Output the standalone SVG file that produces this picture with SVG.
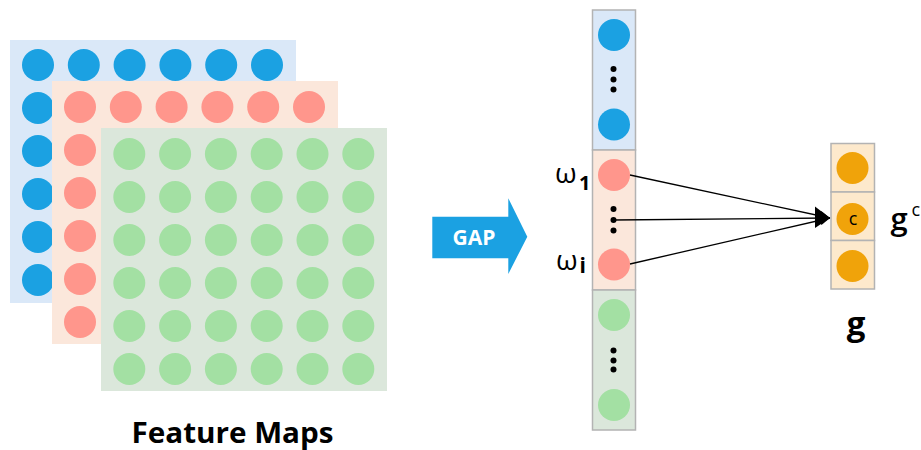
<svg xmlns="http://www.w3.org/2000/svg" width="921" height="450" viewBox="0 0 921 450">
<defs>
<style>
.bc{fill:#1ba1e2}.pc{fill:#ff968c}.gc{fill:#a3e0a3}.oc{fill:#f0a30a}
.dot{fill:#000}
.cell{stroke:#b3b3b3;stroke-width:1.5}
.t{font-family:"Open Sans","Noto Sans","DejaVu Sans",sans-serif;fill:#000}
.ln{stroke:#000;stroke-width:1.3;fill:none}
</style>
<marker id="ah" viewBox="0 0 10 10" refX="10" refY="5" markerWidth="10" markerHeight="10" markerUnits="userSpaceOnUse" orient="auto">
<path d="M0,0 L10,5 L0,10 Z" fill="#000"/>
</marker>
<g id="bgrid">
<circle cx="0" cy="0" r="16"/><circle cx="45.8" cy="0" r="16"/><circle cx="91.6" cy="0" r="16"/><circle cx="137.4" cy="0" r="16"/><circle cx="183.2" cy="0" r="16"/><circle cx="229" cy="0" r="16"/>
</g>
</defs>
<rect width="921" height="450" fill="#fff"/>

<g id="map-blue">
<rect x="10" y="40" width="286" height="263" fill="#dae8f8"/>
<g class="bc">
<use href="#bgrid" x="38" y="65"/><use href="#bgrid" x="38" y="108"/><use href="#bgrid" x="38" y="151"/><use href="#bgrid" x="38" y="194"/><use href="#bgrid" x="38" y="237"/><use href="#bgrid" x="38" y="280"/>
</g>
</g>
<g id="map-pink">
<rect x="52" y="81" width="286" height="263" fill="#fbe7db"/>
<g class="pc">
<use href="#bgrid" x="80" y="107"/><use href="#bgrid" x="80" y="150"/><use href="#bgrid" x="80" y="193"/><use href="#bgrid" x="80" y="236"/><use href="#bgrid" x="80" y="279"/><use href="#bgrid" x="80" y="322"/>
</g>
</g>
<g id="map-green">
<rect x="101" y="128" width="286" height="263" fill="#dbe7db"/>
<g class="gc">
<use href="#bgrid" x="129.3" y="154"/><use href="#bgrid" x="129.3" y="197"/><use href="#bgrid" x="129.3" y="240"/><use href="#bgrid" x="129.3" y="283"/><use href="#bgrid" x="129.3" y="326"/><use href="#bgrid" x="129.3" y="369"/>
</g>
</g>
<g id="label-feature-maps">
<text class="t" x="232.5" y="443" font-size="28" font-weight="bold" text-anchor="middle" textLength="202" lengthAdjust="spacingAndGlyphs">Feature Maps</text>
</g>

<g id="gap-arrow">
<path d="M432.3,216.7 H508.3 V198.3 L527.3,236.7 L508.3,274 V258.3 H432.3 Z" fill="#1ba1e2"/>
<text class="t" x="474" y="245" font-size="21" font-weight="bold" style="fill:#fff" text-anchor="middle">GAP</text>
</g>

<g id="vector-blue">
<rect class="cell" x="592.5" y="10" width="43" height="140" fill="#dae8f8"/>
<circle class="bc" cx="614" cy="35" r="16"/>
<circle class="bc" cx="614" cy="124.5" r="16"/>
<circle class="dot" cx="613.5" cy="69" r="3"/><circle class="dot" cx="613.5" cy="79.5" r="3"/><circle class="dot" cx="613.5" cy="89.5" r="3"/>
</g>
<g id="vector-pink">
<rect class="cell" x="592.5" y="150" width="43" height="140" fill="#fbe7db"/>
<circle class="pc" cx="614" cy="175" r="16"/>
<circle class="pc" cx="614" cy="264.5" r="16"/>
<circle class="dot" cx="613.5" cy="209" r="3"/><circle class="dot" cx="613.5" cy="220" r="3"/><circle class="dot" cx="613.5" cy="230.5" r="3"/>
</g>
<g id="vector-green">
<rect class="cell" x="592.5" y="290" width="43" height="140" fill="#dbe7db"/>
<circle class="gc" cx="614" cy="315" r="16"/>
<circle class="gc" cx="614" cy="405" r="16"/>
<circle class="dot" cx="613.5" cy="350.5" r="3"/><circle class="dot" cx="613.5" cy="360.5" r="3"/><circle class="dot" cx="613.5" cy="369.5" r="3"/>
</g>
<g id="label-w1">
<text class="t" x="555" y="183" font-size="28">ω</text>
<text class="t" x="579" y="190" font-size="20" font-weight="bold">1</text>
</g>
<g id="label-wi">
<text class="t" x="556" y="270" font-size="28">ω</text>
<text class="t" x="579.5" y="272.5" font-size="21" font-weight="bold">i</text>
</g>

<g id="vector-g">
<rect class="cell" x="831" y="143.5" width="43.5" height="48.5" fill="#fde9cc"/>
<rect class="cell" x="831" y="192" width="43.5" height="48.5" fill="#fde9cc"/>
<rect class="cell" x="831" y="240.5" width="43.5" height="48.5" fill="#fde9cc"/>
<circle class="oc" cx="852.5" cy="168" r="16"/>
<circle class="oc" cx="852.5" cy="219" r="16"/>
<circle class="oc" cx="852.5" cy="266" r="16"/>
<text class="t" x="853" y="224.5" font-size="18" text-anchor="middle">c</text>
</g>
<g id="label-gc">
<text class="t" x="890.5" y="230" font-size="31" font-weight="600">g</text>
<text class="t" x="911.5" y="216" font-size="18">c</text>
</g>
<g id="label-g">
<text class="t" x="856" y="335" font-size="33" font-weight="bold" text-anchor="middle">g</text>
</g>

<g id="connectors">
<line class="ln" x1="630" y1="175" x2="830" y2="218" marker-end="url(#ah)"/>
<line class="ln" x1="613.5" y1="220" x2="830" y2="218" marker-end="url(#ah)"/>
<line class="ln" x1="630" y1="264" x2="830" y2="218" marker-end="url(#ah)"/>
<path d="M830,218 L815,206.5 L815,228 Z" fill="#000"/>
</g>
</svg>
